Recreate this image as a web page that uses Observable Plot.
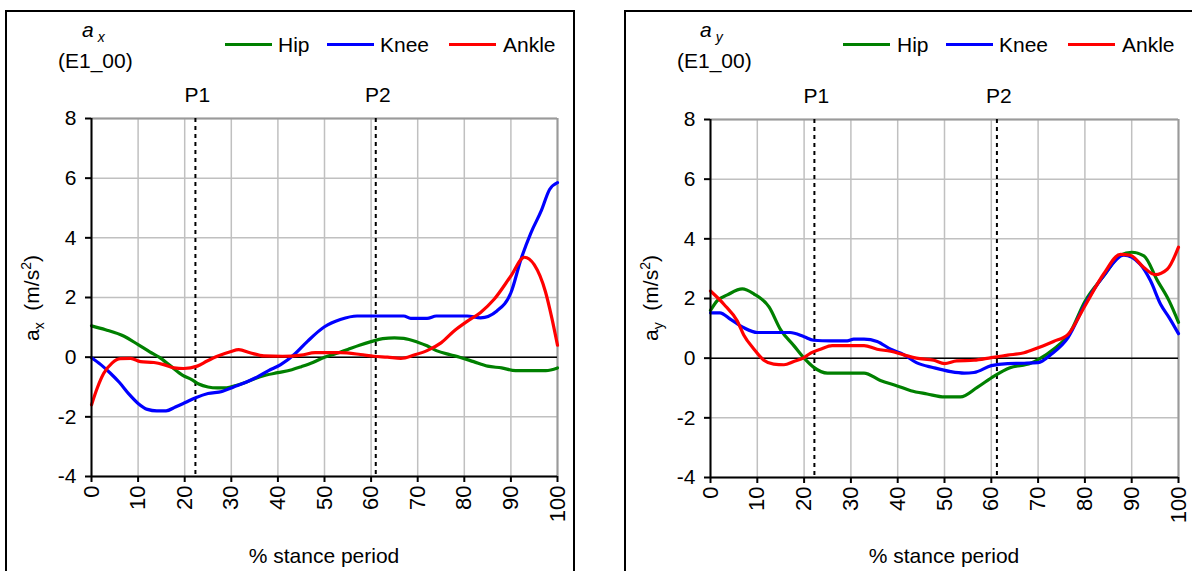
<!DOCTYPE html>
<html>
<head>
<meta charset="utf-8">
<script src="https://cdn.jsdelivr.net/npm/d3@7"></script>
<script src="https://cdn.jsdelivr.net/npm/@observablehq/plot@0.6"></script>
<style>
  html, body { margin: 0; padding: 0; background: #fff; }
  #chart { position: relative; width: 1192px; height: 571px; overflow: hidden; font-family: "Liberation Sans", Arial, sans-serif; color: #000; }
  .abs { position: absolute; white-space: nowrap; line-height: 18px; font-size: 21px; }
  .box { position: absolute; border: 2px solid #000; box-sizing: border-box; }
  .leg { position: absolute; height: 3px; }
  sub, sup { font-size: 14px; line-height: 0; }
</style>
</head>
<body>
<div id="chart"></div>
<script>
// ---------- data ----------
const seriesNames = ["Hip", "Knee", "Ankle"];
const seriesColors = ["#008000", "#0000ff", "#ff0000"];
const xTicks = [0, 10, 20, 30, 40, 50, 60, 70, 80, 90, 100];
const yTicks = [-4, -2, 0, 2, 4, 6, 8];
const phaseNames = ["P1", "P2"];
const phaseAx = [22.3, 61.0];
const phaseAy = [22.2, 61.2];

const hipAx = [[0,1.05],[3,0.92],[7,0.7],[10,0.42],[12.5,0.18],[14.5,0],[17,-0.3],[19.5,-0.6],[21.5,-0.75],[23,-0.9],[25,-1.0],[27,-1.03],[29,-1.03],[31,-0.95],[33,-0.85],[35,-0.72],[37.5,-0.6],[40,-0.52],[43,-0.42],[45,-0.32],[47.5,-0.18],[50,0],[52.5,0.12],[55,0.26],[57.5,0.4],[60,0.52],[62.5,0.62],[65,0.65],[67,0.63],[70,0.5],[72,0.38],[74,0.22],[77,0.08],[79,0],[82,-0.15],[85,-0.3],[88,-0.36],[91,-0.45],[94,-0.45],[97.5,-0.45],[100,-0.36]];
const kneeAx = [[0,-0.02],[2,-0.25],[4,-0.53],[6,-0.85],[8,-1.23],[10,-1.55],[12,-1.75],[14,-1.8],[16,-1.8],[18,-1.67],[20,-1.53],[22.5,-1.35],[25,-1.22],[28,-1.15],[30.5,-1.0],[33,-0.85],[35.5,-0.67],[38,-0.45],[40.6,-0.25],[43.5,0.09],[46.4,0.54],[50,1.02],[53.4,1.26],[57,1.38],[62,1.38],[67,1.38],[68.5,1.3],[72,1.3],[74,1.38],[80.6,1.38],[83.5,1.32],[87,1.55],[90,2.16],[92.2,3.3],[94.3,4.17],[96.5,4.9],[98.3,5.62],[100,5.85]];
const ankleAx = [[0,-1.6],[1.2,-1.05],[2.6,-0.55],[4.4,-0.2],[6.2,-0.05],[8.4,-0.04],[10.5,-0.15],[13.4,-0.18],[15.5,-0.25],[17.7,-0.36],[19.8,-0.38],[22.7,-0.3],[24.8,-0.13],[27,0.03],[29.8,0.18],[31.6,0.25],[34,0.15],[37,0.04],[41,0.03],[45,0.07],[48,0.15],[53.4,0.15],[57.7,0.09],[60.6,0.03],[63.5,0],[66.4,-0.04],[69.2,0.07],[72,0.22],[75,0.48],[77.8,0.88],[80.6,1.2],[83.5,1.5],[86.4,1.94],[90,2.72],[92.9,3.35],[95,3.1],[97.4,2.2],[98.8,1.3],[100,0.4]];

const hipAy = [[0,1.6],[1.4,1.92],[3.6,2.12],[6.8,2.32],[9.3,2.15],[12.5,1.72],[15,0.95],[17.8,0.42],[20,0],[22,-0.3],[25,-0.5],[28.5,-0.5],[32.8,-0.5],[36.3,-0.75],[39.9,-0.93],[42.8,-1.09],[46.3,-1.2],[50,-1.3],[53.4,-1.3],[57,-0.98],[60.6,-0.6],[64,-0.32],[68.4,-0.17],[70,-0.05],[73.3,0.3],[76.8,0.85],[80,1.9],[84,2.75],[87.6,3.45],[90,3.55],[92.6,3.43],[95.5,2.6],[98,1.92],[100,1.2]];
const kneeAy = [[0,1.52],[2,1.52],[4.3,1.3],[7,1.03],[10,0.86],[14.3,0.86],[17,0.86],[20,0.72],[22,0.6],[25.7,0.58],[29.2,0.58],[30.6,0.64],[32.8,0.64],[35.6,0.56],[38.5,0.3],[41.3,0.12],[44,-0.15],[47.7,-0.32],[51.3,-0.45],[54.2,-0.5],[56.3,-0.48],[60,-0.25],[63.5,-0.18],[67,-0.17],[70,-0.15],[72.8,0.13],[76.4,0.69],[80,1.8],[84,2.76],[88.3,3.45],[91.8,3.15],[94,2.6],[96.2,1.8],[98,1.36],[100,0.82]];
const ankleAy = [[0,2.25],[2.9,1.8],[5.7,1.25],[7.1,0.78],[9.3,0.3],[11.4,-0.07],[13.5,-0.2],[15.7,-0.22],[17.8,-0.11],[20,0.02],[21.4,0.17],[23.5,0.3],[26,0.42],[28.5,0.42],[32.8,0.42],[35.6,0.3],[38.5,0.23],[41.3,0.11],[44,0],[47.7,-0.07],[50,-0.18],[52.6,-0.09],[56.3,-0.07],[60,0.02],[63.5,0.1],[67,0.18],[70,0.35],[73.3,0.56],[76.4,0.8],[80,1.75],[84,2.82],[87.6,3.48],[89.7,3.45],[92.6,3.04],[95,2.8],[97.6,2.98],[100,3.72]];

// ---------- helpers ----------
const chart = document.getElementById("chart");
function el(tag, cls, css, html) {
  const e = document.createElement(tag);
  if (cls) e.className = cls;
  Object.assign(e.style, css);
  if (html != null) e.innerHTML = html;
  chart.appendChild(e);
  return e;
}
function toRows(list) {
  const rows = [];
  list.forEach((pts, i) => pts.forEach(([x, y]) => rows.push({series: seriesNames[i], x, y})));
  return rows;
}

function panel(cfg) {
  const rows = toRows(cfg.series);
  const phases = phaseNames.map((n, i) => ({name: n, x: cfg.phases[i]}));
  const svg = Plot.plot({
    width: cfg.width, height: 571,
    marginLeft: cfg.ml, marginRight: cfg.mr, marginTop: cfg.mt, marginBottom: cfg.mb,
    style: {background: "transparent", fontFamily: '"Liberation Sans", Arial, sans-serif', fontSize: "21px", color: "#000", overflow: "visible", maxWidth: "none"},
    x: {domain: [0, 100], axis: null},
    y: {domain: [-4, 8], axis: null},
    color: {domain: seriesNames, range: seriesColors},
    marks: [
      Plot.gridX(xTicks, {stroke: "#c0c0c0", strokeOpacity: 1, strokeWidth: 1.5}),
      Plot.gridY(yTicks, {stroke: "#c0c0c0", strokeOpacity: 1, strokeWidth: 1.5}),
      Plot.ruleY([8], {stroke: "#9a9a9a", strokeWidth: 2}),
      Plot.ruleX([100], {stroke: "#9a9a9a", strokeWidth: 2}),
      Plot.ruleY([0], {stroke: "#000", strokeWidth: 1.5}),
      Plot.ruleX(phases, {x: "x", stroke: "#000", strokeWidth: 2, strokeDasharray: "4,4"}),
      Plot.text(phases, {x: "x", y: () => 8, text: "name", dy: -23, dx: 2, fontSize: 21, fill: "#000"}),
      Plot.line(rows, {x: "x", y: "y", z: "series", stroke: "series", strokeWidth: 3.2, curve: "monotone-x"}),
      Plot.axisY({ticks: yTicks, tickFormat: d => String(d), tickSize: 6, tickPadding: 9, strokeWidth: 2, label: null, fontSize: 21}),
      Plot.axisX({ticks: xTicks, tickFormat: d => String(d), tickRotate: -90, tickSize: 6, tickPadding: 3, strokeWidth: 2, label: null, fontSize: 22}),
      Plot.ruleX([0], {stroke: "#000", strokeWidth: 2}),
      Plot.ruleY([-4], {stroke: "#000", strokeWidth: 2})
    ]
  });
  svg.style.position = "absolute";
  svg.style.left = cfg.left + "px";
  svg.style.top = "0px";
  chart.appendChild(svg);

  // frame box
  el("div", "box", {left: cfg.box[0] + "px", top: cfg.box[1] + "px", width: cfg.box[2] + "px", height: cfg.box[3] + "px"});

  // title
  el("div", "abs", {left: cfg.titleX + "px", top: "21px", fontStyle: "italic"}, 'a<span style="font-size:14px;position:relative;top:5px;margin-left:4px">' + cfg.sub + '</span>');
  el("div", "abs", {left: cfg.idX + "px", top: "52px"}, "(E1_00)");

  // legend
  seriesNames.forEach((n, i) => {
    el("div", "leg", {left: cfg.leg[i][0] + "px", top: "43px", width: "47px", background: seriesColors[i]});
    el("div", "abs", {left: cfg.leg[i][1] + "px", top: "36px"}, n);
  });

  // y label
  el("div", "abs", {left: cfg.ylabX + "px", top: "298px", transform: "translate(-50%,-50%) rotate(-90deg)"}, 'a<sub>' + cfg.sub + '</sub>&nbsp; (m/s<sup>2</sup>)');
  // x label
  el("div", "abs", {left: cfg.xlabX + "px", top: "547px", transform: "translateX(-50%)"}, "% stance period");
}

panel({series: [hipAx, kneeAx, ankleAx], phases: phaseAx, left: 0, width: 596, ml: 91, mr: 39, mt: 118, mb: 95,
  box: [5, 10, 570, 600], titleX: 82, idX: 58, sub: "x",
  leg: [[225, 278], [327, 380], [449, 503]], ylabX: 32, xlabX: 324});
panel({series: [hipAy, kneeAy, ankleAy], phases: phaseAy, left: 596, width: 596, ml: 114, mr: 14, mt: 119, mb: 94,
  box: [624, 10, 600, 600], titleX: 700, idX: 677, sub: "y",
  leg: [[843, 897], [946, 999], [1068, 1122]], ylabX: 651, xlabX: 944});
</script>
</body>
</html>
